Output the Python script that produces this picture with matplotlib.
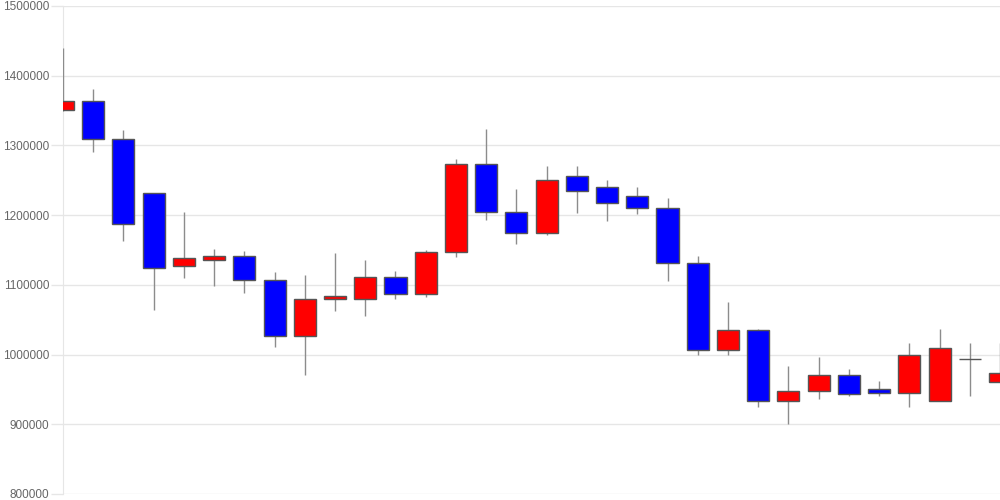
import matplotlib
matplotlib.use("Agg")
import matplotlib.pyplot as plt
import numpy as np

# OHLC values
opens = [1351000, 1364000, 1309000, 1232000, 1127000, 1135000, 1141000, 1107000,
         1026000, 1079000, 1080000, 1111000, 1087000, 1147000, 1273000, 1204000,
         1175000, 1256000, 1241000, 1227000, 1210000, 1131000, 1007000, 1035000,
         933000, 948000, 970000, 951000, 945000, 934000, 994000, 960000]
closes = [1364000, 1309000, 1188000, 1124000, 1138000, 1141000, 1107000, 1026000,
          1079000, 1084000, 1111000, 1087000, 1147000, 1273000, 1204000, 1175000,
          1251000, 1235000, 1218000, 1210000, 1131000, 1007000, 1035000, 933000,
          948000, 970000, 944000, 945000, 1000000, 1010000, 994000, 973000]
highs = [1440000, 1381000, 1322000, 1232000, 1205000, 1151000, 1148000, 1118000,
         1114000, 1145000, 1136000, 1120000, 1150000, 1280000, 1324000, 1238000,
         1271000, 1270000, 1250000, 1240000, 1225000, 1141000, 1075000, 1037000,
         983000, 996000, 980000, 962000, 1016000, 1036000, 1016000, 1016000]
lows = [1350000, 1290000, 1163000, 1064000, 1110000, 1099000, 1088000, 1011000,
        971000, 1063000, 1055000, 1079000, 1083000, 1140000, 1193000, 1158000,
        1172000, 1203000, 1191000, 1202000, 1106000, 1000000, 1000000, 925000,
        901000, 936000, 940000, 941000, 925000, 934000, 940000, 960000]

y_ticks = [800000, 900000, 1000000, 1100000, 1200000, 1300000, 1400000, 1500000]

x = np.arange(len(opens))
o = np.array(opens)
c = np.array(closes)
colors = np.where(c >= o, '#ff0000', '#0000ff')

fig = plt.figure(figsize=(10, 5), dpi=100)
ax = fig.add_axes([0.063, 0.012, 0.937, 0.976])

# wicks above the left spine so the first (half-clipped) candle shows its wick
ax.vlines(x, lows, highs, color='#8c8c8c', linewidth=1, zorder=2.6)
ax.bar(x, c - o, bottom=o, width=0.73, color=colors, edgecolor='#555555',
       linewidth=1, zorder=3)

ax.set_xlim(0, len(opens) - 1)
ax.set_ylim(800000, 1500000)
ax.set_yticks(y_ticks)
ax.set_yticklabels([str(t) for t in y_ticks], fontfamily='Liberation Sans',
                   fontsize=8.5, color='#666666')
ax.set_xticks([])
ax.grid(axis='y', color='#e6e6e6', linewidth=1, zorder=0)
ax.tick_params(axis='y', length=9, width=1, color='#e6e6e6', pad=1)
for side in ['top', 'right', 'bottom']:
    ax.spines[side].set_visible(False)
ax.spines['left'].set_color('#e6e6e6')

fig.savefig('out.png', dpi=100)
